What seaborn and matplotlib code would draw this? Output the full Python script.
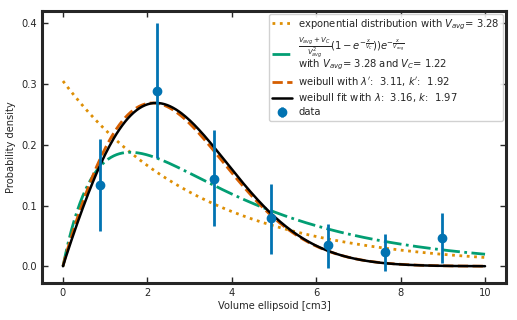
import numpy as np
import pandas as pd
import seaborn as sns
import matplotlib.pyplot as plt

# measured data (bin centres, density, error bar half-ranges)
x_data = [0.87, 2.22, 3.57, 4.92, 6.27, 7.62, 8.97]
y_data = [0.134, 0.288, 0.144, 0.079, 0.035, 0.023, 0.046]
err_low = [0.076, 0.110, 0.078, 0.058, 0.038, 0.030, 0.041]
err_high = [0.076, 0.112, 0.081, 0.057, 0.035, 0.030, 0.042]

# fitted parameters from the legend
v_avg = 3.28
v_c = 1.22
lam_p, k_p = 3.11, 1.92
lam, k = 3.16, 1.97

x = np.linspace(0, 10, 300)


def weibull(x, l, k):
    return k / l * (x / l) ** (k - 1) * np.exp(-(x / l) ** k)


df = pd.DataFrame({
    'x': x,
    'expo': np.exp(-x / v_avg) / v_avg,
    'two': (v_avg + v_c) / v_avg ** 2 * (1 - np.exp(-x / v_c)) * np.exp(-x / v_avg),
    'weib': weibull(x, lam_p, k_p),
    'fit': weibull(x, lam, k),
})

sns.set_style('ticks')
pal = sns.color_palette('colorblind')
plt.rcParams['font.family'] = ['DejaVu Sans']

fig, ax = plt.subplots(figsize=(5.17, 3.2), dpi=100)
fig.subplots_adjust(left=0.081, right=0.979, top=0.966, bottom=0.116)

sns.lineplot(data=df, x='x', y='expo', ax=ax, color=pal[1], linestyle=':', linewidth=2,
             label=r'exponential distribution with $V_{avg}$= 3.28')
sns.lineplot(data=df, x='x', y='two', ax=ax, color=pal[2], linestyle='-.', linewidth=2,
             label=r'$\frac{V_{avg}+V_C}{V_{avg}^2}(1-e^{-\frac{x}{V_C}}))e^{-\frac{x}{V_{avg}}}$'
                   '\n' r'with $V_{avg}$= 3.28 and $V_C$= 1.22')
sns.lineplot(data=df, x='x', y='weib', ax=ax, color=pal[3], linestyle='--', linewidth=2,
             label=r"weibull with $\lambda'$:  3.11, $k'$:  1.92")
sns.lineplot(data=df, x='x', y='fit', ax=ax, color='black', linewidth=1.8,
             label=r'weibull fit with $\lambda$:  3.16, $k$:  1.97')
ax.errorbar(x_data, y_data, yerr=[err_low, err_high], fmt='o', color=pal[0],
            markersize=6, elinewidth=2, label='data')

ax.set_xlabel('Volume ellipsoid [cm3]', fontsize=7.1, labelpad=2)
ax.set_ylabel('Probability density', fontsize=7.1)
ax.set_xticks([0, 2, 4, 6, 8, 10])
ax.set_yticks([0.0, 0.1, 0.2, 0.3, 0.4])
ax.tick_params(direction='in', top=True, right=True, labelsize=7.1, length=4, width=1)
for s in ax.spines.values():
    s.set_linewidth(2.2)
ax.margins(x=0.05, y=0.05)

leg = ax.legend(loc='upper right', fontsize=7.2, framealpha=0.9, borderaxespad=0.3,
                handlelength=2.0, handletextpad=0.6, labelspacing=0.3, borderpad=0.35)
for t in leg.get_texts():
    t.set_linespacing(0.8)

plt.savefig('out.png', dpi=100)
